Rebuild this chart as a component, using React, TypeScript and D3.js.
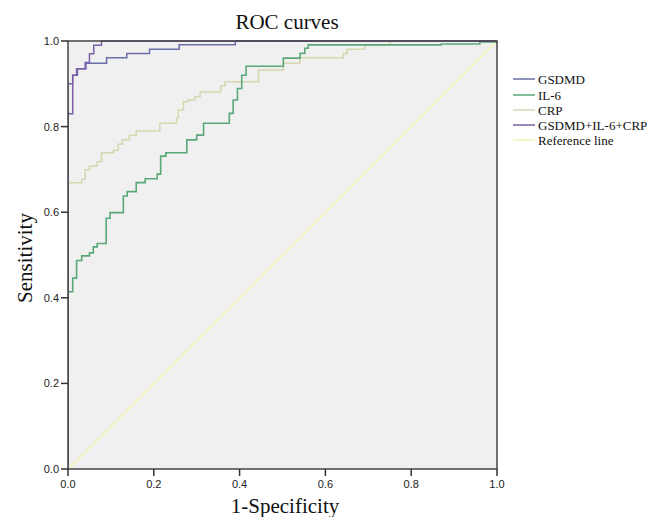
import React from "react";
import * as d3 from "d3";

const seriesNames = ["GSDMD", "IL-6", "CRP", "GSDMD+IL-6+CRP", "Reference line"];
const seriesColors = ["#6b6ea8", "#5aa878", "#d6d6b0", "#7d5fa8", "#f2f2b0"];

const gsdmdFpr = [0, 0, 0.011, 0.022, 0.042, 0.09, 0.137, 0.19, 0.259, 0.39, 1.0];
const gsdmdTpr = [0, 0.9, 0.92, 0.935, 0.948, 0.961, 0.971, 0.981, 0.991, 1.0, 1.0];

const comboFpr = [0, 0, 0.011, 0.02, 0.04, 0.05, 0.06, 0.078, 1.0];
const comboTpr = [0, 0.83, 0.92, 0.935, 0.95, 0.97, 0.99, 1.0, 1.0];

const il6Fpr = [0, 0, 0.011, 0.02, 0.032, 0.05, 0.059, 0.068, 0.089, 0.098, 0.129, 0.138, 0.159, 0.18, 0.208, 0.216, 0.228, 0.277, 0.3, 0.316, 0.376, 0.385, 0.395, 0.405, 0.415, 0.502, 0.541, 0.552, 0.56, 0.87, 0.96, 1.0];
const il6Tpr = [0, 0.414, 0.446, 0.487, 0.498, 0.505, 0.519, 0.527, 0.586, 0.599, 0.638, 0.648, 0.669, 0.678, 0.689, 0.731, 0.739, 0.769, 0.78, 0.808, 0.831, 0.862, 0.889, 0.92, 0.941, 0.96, 0.971, 0.983, 0.991, 0.993, 0.998, 1.0];

const crpFpr = [0, 0, 0.032, 0.04, 0.05, 0.068, 0.078, 0.106, 0.117, 0.127, 0.143, 0.159, 0.214, 0.253, 0.257, 0.269, 0.28, 0.296, 0.308, 0.356, 0.366, 0.444, 0.502, 0.541, 0.642, 0.65, 0.692, 0.75, 1.0];
const crpTpr = [0, 0.669, 0.677, 0.699, 0.708, 0.718, 0.739, 0.745, 0.759, 0.769, 0.78, 0.79, 0.808, 0.82, 0.839, 0.858, 0.862, 0.87, 0.881, 0.895, 0.905, 0.932, 0.948, 0.961, 0.97, 0.981, 0.991, 1.0, 1.0];

const refFpr = [0, 1];
const refTpr = [0, 1];

const tickValues = [0, 0.2, 0.4, 0.6, 0.8, 1.0];

const W = 652, H = 517;
const X0 = 68, X1 = 497, Y0 = 469, Y1 = 41;

export default function App() {
  const x = d3.scaleLinear().domain([0, 1]).range([X0, X1]);
  const y = d3.scaleLinear().domain([0, 1]).range([Y0, Y1]);
  const step = d3.line<[number, number]>().x(d => x(d[0])).y(d => y(d[1])).curve(d3.curveStepAfter);
  const straight = d3.line<[number, number]>().x(d => x(d[0])).y(d => y(d[1]));
  const zip = (a: number[], b: number[]) => a.map((v, i) => [v, b[i]] as [number, number]);

  const curves = [
    { d: straight(zip(refFpr, refTpr)), c: seriesColors[4], w: 1.5 },
    { d: step(zip(crpFpr, crpTpr)), c: seriesColors[2], w: 1.5 },
    { d: step(zip(il6Fpr, il6Tpr)), c: seriesColors[1], w: 1.6 },
    { d: step(zip(gsdmdFpr, gsdmdTpr)), c: seriesColors[0], w: 1.5 },
    { d: step(zip(comboFpr, comboTpr)), c: seriesColors[3], w: 1.5 },
  ];

  const legendY = [79, 95, 110, 125, 140];

  return (
    <svg width={W} height={H} style={{ position: "absolute", left: 0, top: 0, background: "#fff" }}>
      <rect x={X0} y={Y1} width={X1 - X0} height={Y0 - Y1} fill="#f0f0f0" />
      <g clipPath="url(#clip)">
        <defs>
          <clipPath id="clip"><rect x={X0} y={Y1 - 1} width={X1 - X0 + 1} height={Y0 - Y1 + 2} /></clipPath>
        </defs>
        {curves.map((cv, i) => (
          <path key={i} d={cv.d || ""} fill="none" stroke={cv.c} strokeWidth={cv.w} />
        ))}
      </g>
      <rect x={X0} y={Y1} width={X1 - X0} height={Y0 - Y1} fill="none" stroke="#444" strokeWidth={1.5} />
      {tickValues.map(t => (
        <g key={"x" + t}>
          <line x1={x(t)} x2={x(t)} y1={Y0} y2={Y0 + 7} stroke="#333" strokeWidth={1.5} />
          <text x={x(t)} y={Y0 + 19} textAnchor="middle" fontFamily="Liberation Sans, Arial, sans-serif" fontSize={11} fill="#222">{t.toFixed(1)}</text>
          <line x1={X0 - 7} x2={X0} y1={y(t)} y2={y(t)} stroke="#333" strokeWidth={1.5} />
          <text x={X0 - 9} y={y(t) + 4} textAnchor="end" fontFamily="Liberation Sans, Arial, sans-serif" fontSize={11} fill="#222">{t.toFixed(1)}</text>
        </g>
      ))}
      <text x={287} y={29} textAnchor="middle" fontFamily="Liberation Serif, Times New Roman, serif" fontSize={21} fill="#111">ROC curves</text>
      <text x={285} y={513} textAnchor="middle" fontFamily="Liberation Serif, Times New Roman, serif" fontSize={21} fill="#111">1-Specificity</text>
      <text transform={`translate(32,258) rotate(-90)`} textAnchor="middle" fontFamily="Liberation Serif, Times New Roman, serif" fontSize={21} fill="#111">Sensitivity</text>
      {seriesNames.map((n, i) => (
        <g key={n}>
          <line x1={513} x2={535} y1={legendY[i]} y2={legendY[i]} stroke={seriesColors[i]} strokeWidth={1.5} />
          <text x={538} y={legendY[i] + 4.5} fontFamily="Liberation Serif, Times New Roman, serif" fontSize={13} fill="#111">{n}</text>
        </g>
      ))}
    </svg>
  );
}
